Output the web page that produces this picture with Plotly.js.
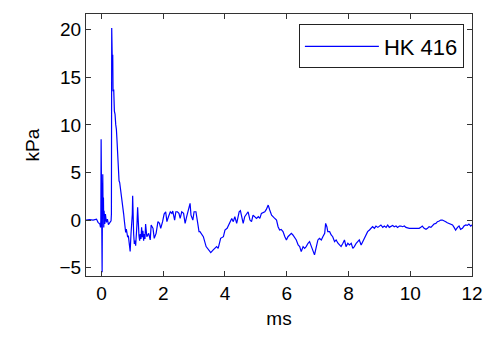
<!DOCTYPE html>
<html>
<head>
<meta charset="utf-8">
<script src="https://cdn.plot.ly/plotly-3.0.1.min.js"></script>
<style>html,body{margin:0;padding:0;background:#fff;}#chart{width:489px;height:338px;}</style>
</head>
<body>
<div id="chart"></div>
<script>
// Time (ms)
const timeMs = [
  -0.5, -0.38, -0.27, -0.16, -0.11, -0.05, -0.03, -0.02, -0.01, 0.0, 0.011, 0.022, 0.032, 0.043, 0.054, 0.065, 0.075, 0.086, 0.108, 0.129, 0.161, 0.194, 0.226, 0.269, 0.312, 0.323,
  0.333, 0.344, 0.355, 0.366, 0.376, 0.398, 0.419, 0.441, 0.462, 0.484, 0.505, 0.527, 0.548, 0.57, 0.591, 0.613, 0.634, 0.656, 0.677, 0.699, 0.72, 0.742, 0.763, 0.785, 0.806, 0.828, 0.849, 0.871, 0.892, 0.93, 0.957, 0.978, 1.0, 1.011, 1.022, 1.043, 1.065, 1.086, 1.108, 1.129, 1.151, 1.172, 1.194, 1.215, 1.237, 1.258, 1.28, 1.301, 1.323, 1.344, 1.366, 1.387, 1.409, 1.43,
  1.47, 1.53, 1.58, 1.61, 1.67, 1.71, 1.77, 1.83, 1.88, 1.92, 1.98, 2.03, 2.08, 2.12, 2.17, 2.23, 2.28, 2.31, 2.37, 2.41, 2.46, 2.51, 2.55, 2.6, 2.66, 2.71, 2.76, 2.82, 2.87, 2.9, 2.96, 3.0, 3.06, 3.11, 3.16,
  3.19, 3.3, 3.39, 3.46, 3.54, 3.62, 3.73, 3.78, 3.86, 3.95, 4.0, 4.07, 4.14, 4.22, 4.27, 4.32, 4.38, 4.46, 4.5, 4.55, 4.59, 4.64, 4.7, 4.75, 4.81, 4.86, 4.91, 4.97, 5.02, 5.08, 5.13, 5.18, 5.24, 5.29, 5.34, 5.4,
  5.45, 5.51, 5.58, 5.67, 5.72, 5.77, 5.82, 5.88, 5.94, 5.99, 6.04, 6.1, 6.15, 6.2, 6.26, 6.31, 6.37, 6.42, 6.47, 6.53, 6.58, 6.63, 6.69, 6.74, 6.8, 6.85, 6.9, 6.96, 7.01, 7.06, 7.12, 7.17, 7.23, 7.26, 7.3, 7.33, 7.39, 7.44, 7.49, 7.55, 7.6, 7.66, 7.71, 7.76, 7.82, 7.87, 7.92, 7.98, 8.03, 8.09, 8.14, 8.19, 8.25, 8.3, 8.35, 8.41, 8.46, 8.52, 8.57, 8.62, 8.68, 8.73, 8.78, 8.84, 8.89, 8.95, 9.0, 9.05, 9.11, 9.16, 9.22, 9.27, 9.32, 9.38, 9.43, 9.48, 9.54, 9.59, 9.65, 9.7, 9.75, 9.81, 9.86, 9.97, 10.08, 10.18, 10.29, 10.34, 10.39, 10.45, 10.51, 10.56, 10.61, 10.67, 10.72, 10.77, 10.83, 10.88, 10.94, 10.99, 11.04, 11.1, 11.15, 11.2, 11.26, 11.31, 11.37, 11.42, 11.47, 11.53, 11.58, 11.63, 11.69, 11.74, 11.8, 11.85, 11.9, 11.96, 12.0
];
// Pressure (kPa)
const pressureKPa = [
  0.0, 0.05, 0.0, 0.1, -0.24, -0.42, -0.77, -0.07, 8.48, -0.07, 5.17, -5.48, 1.33, 4.82, 0.63, 2.37, -0.77, 0.98, -0.42, 0.63, -0.24, 0.1, -0.49, -0.24, -0.07, 0.63,
  20.17, 18.43, 15.99, 17.38, 13.54, 13.72, 11.45, 11.1, 10.05, 9.53, 8.31, 6.56, 5.17, 4.12, 3.94, 3.42, 3.07, 2.55, 2.02, 1.5, 0.63, -0.07, -0.94, -1.29, -0.94, -1.47, -1.81, -1.64, -2.34, -3.3, -1.47, -0.42, 0.63, 2.55, 0.63, -1.47, -2.51, -2.16, -2.69, -1.81, -0.42, 1.33, -0.77, -1.64, -2.16, -1.47, -1.99, -0.77, -1.81, -1.12, -2.16, -1.47, -1.99, -0.42,
  -1.75, -1.4, -2.09, -0.52, -0.87, -1.92, -1.4, -0.17, -0.35, -0.87, -0.17, 0.63, 0.87, -0.17, 0.35, 0.87, 0.7, 0.94, 0.0, 0.87, 0.87, 0.7, 0.17, 0.87, 0.7, -0.35, 0.35, 1.05, 1.75, 0.52, 0.0, 0.87, 0.87, -0.17, -1.22,
  -1.22, -1.75, -2.79, -3.14, -3.42, -3.14, -2.79, -2.97, -1.92, -1.75, -1.05, -0.87, -0.35, 0.17, -0.17, 0.35, -0.35, 0.87, 0.98, 0.35, -0.35, 0.35, 0.7, 0.87, 0.0, -0.17, 0.52, 0.35, 0.17, 0.35, 0.17, 0.7, 0.77, 0.87, 1.12, 1.57,
  1.05, 0.52, 0.28, 0.0, -0.7, -1.05, -0.98, -1.22, -1.75, -2.09, -1.75, -1.57, -1.4, -1.57, -1.92, -2.09, -2.62, -2.79, -3.32, -2.79, -2.97, -2.79, -2.44, -2.27, -2.79, -3.14, -3.66, -2.79, -2.09, -1.92, -2.09, -1.75, -1.4, -0.35, -0.7, -1.22, -1.22, -1.57, -1.75, -2.27, -2.09, -2.44, -2.62, -2.79, -2.44, -2.09, -2.79, -2.44, -2.62, -2.44, -2.97, -2.79, -2.44, -2.27, -2.09, -2.62, -2.27, -1.75, -1.57, -1.22, -1.05, -0.87, -0.7, -0.87, -0.63, -0.77, -0.63, -0.52, -0.77, -0.63, -0.77, -0.52, -0.77, -0.63, -0.56, -0.7, -0.63, -0.77, -0.63, -0.63, -0.7, -0.63, -0.77, -0.87, -0.87, -0.87, -0.87, -0.77, -0.63, -0.87, -0.98, -0.87, -0.7, -0.77, -0.56, -0.42, -0.35, -0.17, -0.1, 0.0, 0.0, -0.07, -0.17, -0.28, -0.35, -0.42, -0.52, -0.77, -1.05, -0.77, -0.63, -0.98, -0.87, -0.63, -0.52, -0.56, -0.42, -0.63, -0.5
];
const seriesName = 'HK 416';
const xTicks = [0, 2, 4, 6, 8, 10, 12];
const yTicks = [-5, 0, 5, 10, 15, 20];

const FONT = 'Liberation Sans, Arial, sans-serif';
const axisCommon = {
  showgrid: false, zeroline: false, showline: true, mirror: 'ticks',
  linecolor: '#333', linewidth: 1, ticks: 'inside', ticklen: 5, tickcolor: '#333',
  tickfont: {family: FONT, size: 19, color: '#000'}
};
Plotly.newPlot('chart', [{
  x: timeMs, y: pressureKPa, type: 'scatter', mode: 'lines', name: seriesName,
  line: {color: '#0000ff', width: 1.2}
}], {
  width: 489, height: 338,
  margin: {l: 86, r: 17, t: 14, b: 62},
  paper_bgcolor: '#fff', plot_bgcolor: '#fff',
  showlegend: true,
  legend: {x: 0.979, xanchor: 'right', y: 0.96, yanchor: 'top', bordercolor: '#222', borderwidth: 1,
    bgcolor: '#fff', font: {family: FONT, size: 22, color: '#000'}, itemwidth: 74, tracegroupgap: 0},
  xaxis: Object.assign({}, axisCommon, {range: [-0.5, 12], tickvals: xTicks,
    title: {text: 'ms', font: {family: FONT, size: 19, color: '#000'}, standoff: 8}}),
  yaxis: Object.assign({}, axisCommon, {range: [-5.88, 21.65], tickvals: yTicks,
    title: {text: 'kPa', font: {family: FONT, size: 19, color: '#000'}, standoff: 14}})
}, {staticPlot: true});
</script>
</body>
</html>
